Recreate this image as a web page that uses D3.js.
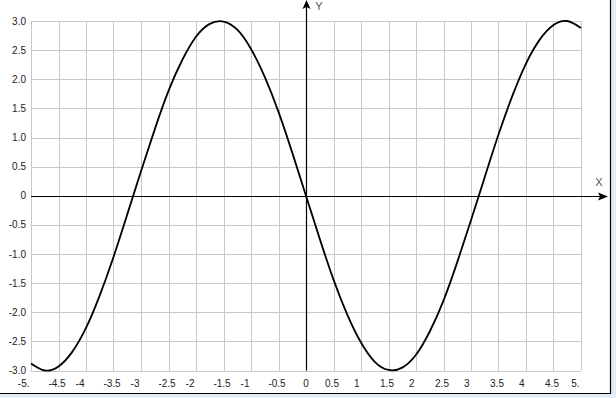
<!DOCTYPE html>
<html lang="en">
<head>
  <meta charset="UTF-8" />
  <title>y = -3 sin x</title>
  <style>
    html, body { margin: 0; padding: 0; background: #fff; overflow: hidden; }
    svg { display: block; }
    .grid line { stroke: #c8c8c8; stroke-width: 1px; shape-rendering: crispEdges; }
    .tick-label { font-family: "Liberation Sans", Arial, sans-serif; font-size: 10px; fill: #222; }
    .axis-name { font-family: "Liberation Sans", Arial, sans-serif; font-size: 11px; fill: #555; }
  </style>
  <script src="https://d3js.org/d3.v7.min.js"></script>
</head>
<body>
<svg id="chart" width="616" height="398"></svg>
<script>
  // tick values and their labels as shown on the chart
  const xTicks = [-5, -4.5, -4, -3.5, -3, -2.5, -2, -1.5, -1, -0.5, 0, 0.5, 1, 1.5, 2, 2.5, 3, 3.5, 4, 4.5, 5];
  const xTickLabels = ["-5.", "-4.5", "-4", "-3.5", "-3", "-2.5", "-2", "-1.5", "-1", "-0.5", "0",
                       "0.5", "1", "1.5", "2", "2.5", "3", "3.5", "4", "4.5", "5."];
  const yTicks = [3, 2.5, 2, 1.5, 1, 0.5, 0, -0.5, -1, -1.5, -2, -2.5, -3];
  const yTickLabels = ["3.0", "2.5", "2.0", "1.5", "1.0", "0.5", "0", "-0.5", "-1.0", "-1.5", "-2.0", "-2.5", "-3.0"];

  // curve points
  const curveX = [-5, -4.75, -4.5, -4.25, -4, -3.75, -3.5, -3.25, -3, -2.75, -2.5, -2.25, -2, -1.75, -1.5, -1.25, -1, -0.75, -0.5, -0.25,
                  0, 0.25, 0.5, 0.75, 1, 1.25, 1.5, 1.75, 2, 2.25, 2.5, 2.75, 3, 3.25, 3.5, 3.75, 4, 4.25, 4.5, 4.75, 5];
  const curveY = [-2.88, -3.00, -2.93, -2.68, -2.27, -1.71, -1.05, -0.32, 0.42, 1.14, 1.80, 2.33, 2.73, 2.95, 2.99, 2.85, 2.52, 2.04, 1.44, 0.74,
                  0, -0.74, -1.44, -2.04, -2.52, -2.85, -2.99, -2.95, -2.73, -2.33, -1.80, -1.14, -0.42, 0.32, 1.05, 1.71, 2.27, 2.68, 2.93, 3.00, 2.88];

  const svg = d3.select("#chart");
  const W = 616, H = 398;

  const x = d3.scaleLinear().domain([-5, 5]).range([31, 581]);
  const y = d3.scaleLinear().domain([-3, 3]).range([370.5, 21]);

  // outer frame with the light strip at the right and bottom
  svg.append("rect").attr("x", 611).attr("y", 0).attr("width", W - 611).attr("height", H).attr("fill", "#e4edf7");
  svg.append("rect").attr("x", 0).attr("y", 394).attr("width", W).attr("height", H - 394).attr("fill", "#e4edf7");
  svg.append("line").attr("x1", 610.5).attr("x2", 610.5).attr("y1", 0).attr("y2", 394)
    .attr("stroke", "#000").attr("stroke-width", 1.2);
  svg.append("line").attr("x1", 0).attr("x2", 611).attr("y1", 393.5).attr("y2", 393.5)
    .attr("stroke", "#000").attr("stroke-width", 1.2);

  // grid
  const grid = svg.append("g").attr("class", "grid");
  grid.selectAll(".vx").data(xTicks).join("line").attr("class", "vx")
    .attr("x1", d => Math.round(x(d)) + 0.5).attr("x2", d => Math.round(x(d)) + 0.5)
    .attr("y1", y(3)).attr("y2", y(-3));
  grid.selectAll(".hy").data(yTicks).join("line").attr("class", "hy")
    .attr("y1", d => Math.round(y(d)) + 0.5).attr("y2", d => Math.round(y(d)) + 0.5)
    .attr("x1", x(-5)).attr("x2", x(5));

  // tick labels
  svg.selectAll(".xl").data(xTicks).join("text").attr("class", "tick-label xl")
    .attr("x", d => d === 0 ? x(d) : x(d) - 1.5)
    .attr("y", 387)
    .attr("text-anchor", d => (d === 0 || !Number.isInteger(d)) ? "middle" : "end")
    .text((d, i) => xTickLabels[i]);

  svg.selectAll(".yl").data(yTicks).join("text").attr("class", "tick-label yl")
    .attr("x", 26)
    .attr("y", d => y(d) + 3.5)
    .attr("text-anchor", "end")
    .text((d, i) => yTickLabels[i]);

  // axes through the origin, with arrows
  const x0 = Math.round(x(0)) + 0.5, y0 = Math.round(y(0)) + 0.5;
  svg.append("line").attr("x1", x(-5)).attr("x2", 603).attr("y1", y0).attr("y2", y0)
    .attr("stroke", "#000").attr("stroke-width", 1.2);
  svg.append("path").attr("d", `M608,${y0} L598,${y0 - 4} L600,${y0} L598,${y0 + 4} Z`).attr("fill", "#000");
  svg.append("line").attr("x1", x0).attr("x2", x0).attr("y1", y(-3)).attr("y2", 5)
    .attr("stroke", "#000").attr("stroke-width", 1.2);
  svg.append("path").attr("d", `M${x0},0 L${x0 - 4},9 L${x0},7 L${x0 + 4},9 Z`).attr("fill", "#000");

  svg.append("text").attr("class", "axis-name").attr("x", 599).attr("y", 186).attr("text-anchor", "middle").text("X");
  svg.append("text").attr("class", "axis-name").attr("x", 319).attr("y", 10).attr("text-anchor", "middle").text("Y");

  // the curve
  const line = d3.line()
    .x(d => x(d[0]))
    .y(d => y(d[1]))
    .curve(d3.curveNatural);

  svg.append("path")
    .datum(curveX.map((v, i) => [v, curveY[i]]))
    .attr("d", line)
    .attr("fill", "none")
    .attr("stroke", "#000")
    .attr("stroke-width", 1.8);
</script>
</body>
</html>
